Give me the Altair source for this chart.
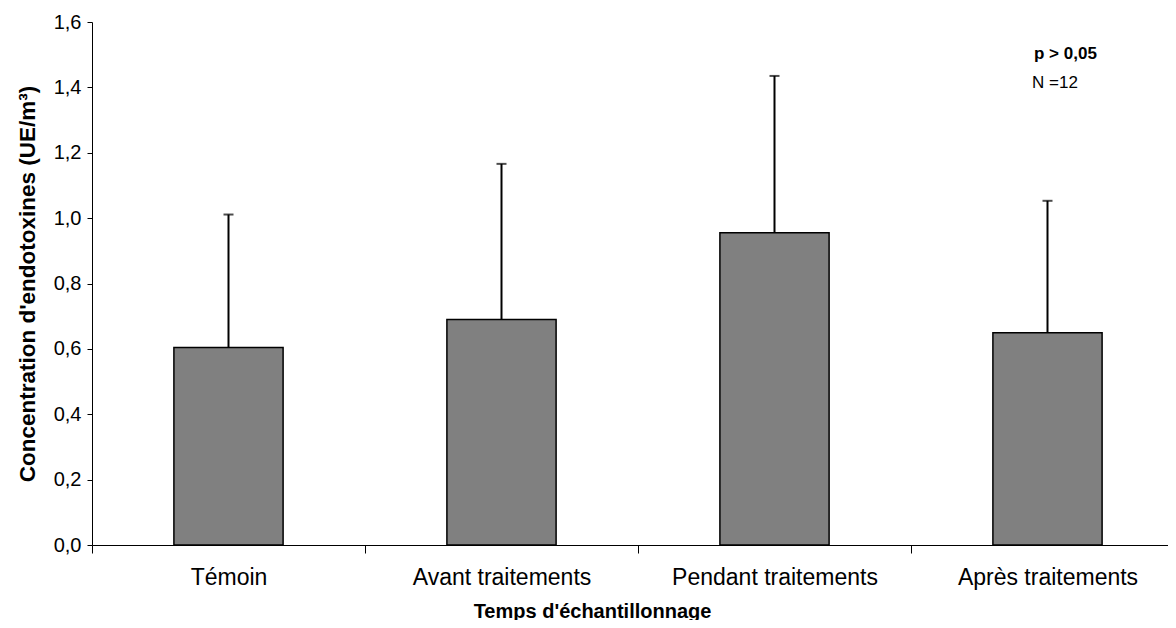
import altair as alt
import pandas as pd

categories = ["Témoin", "Avant traitements", "Pendant traitements", "Après traitements"]
means = [0.604, 0.690, 0.955, 0.649]
upper = [1.011, 1.166, 1.435, 1.053]

df = pd.DataFrame({"cat": categories, "mean": means, "upper": upper})

FONT = "Liberation Sans"
W = 1076
H = 523

x_enc = alt.X(
    "cat:N",
    sort=categories,
    scale=alt.Scale(range=[0, 1092], paddingInner=0, paddingOuter=0),
    axis=alt.Axis(
        title="Temps d'échantillonnage",
        titleFont=FONT, titleFontSize=20, titleFontWeight="bold", titleColor="black",
        titleX=500, titleY=66, titleAlign="center", titleBaseline="middle",
        labelFont=FONT, labelFontSize=23, labelColor="black", labelAngle=0,
        labelPadding=13, labelLimit=400, tickSize=8, tickColor="black", domainColor="black",
        tickBand="extent", labelBaseline="top", grid=False,
    ),
)

y_scale = alt.Scale(domain=[0, 1.6], nice=False)
y_axis = alt.Axis(
    title="Concentration d'endotoxines (UE/m³)",
    titleFont=FONT, titleFontSize=22.5, titleFontWeight="bold", titleColor="black",
    titleAngle=270, titleX=-65, titleY=H / 2, titleAlign="center", titleBaseline="middle",
    values=[0, 0.2, 0.4, 0.6, 0.8, 1.0, 1.2, 1.4, 1.6],
    labelExpr="replace(format(datum.value, '.1f'), '.', ',')",
    labelFont=FONT, labelFontSize=20, labelColor="black", labelPadding=6,
    tickSize=5, tickColor="black", domainColor="black", grid=False,
)

base = alt.Chart(df)

bars = base.mark_bar(
    color="#808080", stroke="black", strokeWidth=1.5, width=alt.RelativeBandSize(0.4)
).encode(
    x=x_enc,
    y=alt.Y("mean:Q", scale=y_scale, axis=y_axis),
)

err = base.mark_rule(color="black", strokeWidth=2).encode(
    x=alt.X("cat:N", sort=categories),
    y=alt.Y("mean:Q"),
    y2="upper:Q",
)

caps = base.mark_tick(color="black", thickness=2, size=10).encode(
    x=alt.X("cat:N", sort=categories),
    y=alt.Y("upper:Q"),
)

ann_df = pd.DataFrame({"t": ["p > 0,05"]})
ann1 = alt.Chart(ann_df).mark_text(
    font=FONT, fontSize=17, fontWeight="bold", align="left", baseline="middle", color="black"
).encode(x=alt.value(942), y=alt.value(32), text="t:N")

ann_df2 = pd.DataFrame({"t": ["N =12"]})
ann2 = alt.Chart(ann_df2).mark_text(
    font=FONT, fontSize=17, align="left", baseline="middle", color="black"
).encode(x=alt.value(940), y=alt.value(61), text="t:N")

chart = (
    alt.layer(bars, err, caps, ann1, ann2)
    .properties(
        width=W,
        height=H,
        background="white",
        autosize=alt.AutoSizeParams(type="none"),
        padding={"left": 84, "top": 14, "right": 0, "bottom": 75},
    )
    .configure_view(strokeOpacity=0, strokeWidth=0)
    .configure_axis(grid=False)
)

chart.save("out.html", embed_options={"renderer": "svg", "actions": False})
